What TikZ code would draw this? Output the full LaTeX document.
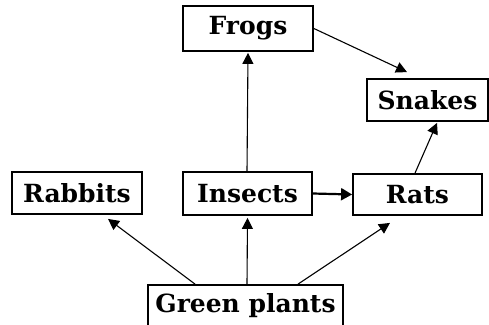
\documentclass[tikz,border=0pt]{standalone}
\usepackage{fontspec}
\setmainfont{DejaVu Serif}
\usetikzlibrary{arrows.meta}
\begin{document}
\begin{tikzpicture}[x=1pt,y=-1pt,
  box/.style={draw,line width=1.8pt,rectangle,inner sep=0pt,font=\bfseries\fontsize{25}{25}\selectfont},
  arr/.style={line width=1.1pt,-{Triangle[length=11pt,width=11pt]}},
  thickarr/.style={line width=2.2pt,-{Triangle[length=11pt,width=12pt]}}]
\useasboundingbox (0,0) rectangle (489,324);
\clip (0,0) rectangle (489,324);
\node[box,minimum width=130pt,minimum height=45pt] (frogs) at (248,28.5) {Frogs};
\node[box,minimum width=121pt,minimum height=42pt] (snakes) at (427.5,100) {Snakes};
\node[box,minimum width=130pt,minimum height=42pt] (rabbits) at (77,193) {Rabbits};
\node[box,minimum width=129pt,minimum height=43pt] (insects) at (247.5,193.5) {Insects};
\node[box,minimum width=129pt,minimum height=41pt] (rats) at (417.5,194.5) {Rats};
\node[box,minimum width=195pt,minimum height=42pt] (gp) at (245.5,306) {Green plants};
\draw[arr] ([xshift=-50.5pt]gp.north) -- ([xshift=31pt,yshift=-4pt]rabbits.south);
\draw[arr] ([xshift=1.5pt]gp.north) -- ([yshift=-2pt]insects.south);
\draw[arr] ([xshift=52.5pt]gp.north) -- ([xshift=-27.5pt,yshift=-7pt]rats.south);
\draw[thickarr] (insects.east) -- (rats.west);
\draw[arr] ([xshift=-0.5pt]insects.north) -- ([yshift=-1pt]frogs.south);
\draw[arr] ([xshift=-2.5pt]rats.north) -- ([xshift=9.5pt,yshift=-1pt]snakes.south);
\draw[arr] ([yshift=0pt]frogs.east) -- ([xshift=-20.5pt,yshift=6pt]snakes.north);
\end{tikzpicture}
\end{document}
